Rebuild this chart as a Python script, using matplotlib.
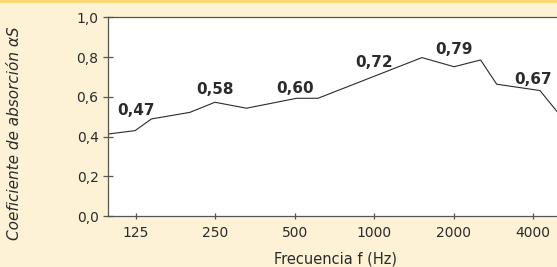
import matplotlib
matplotlib.use("Agg")
import matplotlib.pyplot as plt
from matplotlib.ticker import FixedLocator, NullLocator

# ---- data ----
freq_hz = [98, 124, 143, 200, 249, 328, 508, 612, 1517, 2009, 2532, 2914, 4251, 5000]
alpha_s = [0.413, 0.430, 0.489, 0.522, 0.573, 0.543, 0.593, 0.593, 0.798, 0.752, 0.786, 0.664, 0.632, 0.517]

octave_freqs = [125, 250, 500, 1000, 2000, 4000]
octave_labels = ["125", "250", "500", "1000", "2000", "4000"]
octave_values = ["0,47", "0,58", "0,60", "0,72", "0,79", "0,67"]
label_heights = [0.53, 0.635, 0.64, 0.772, 0.84, 0.69]

y_ticks = [0.0, 0.2, 0.4, 0.6, 0.8, 1.0]
y_tick_labels = ["0,0", "0,2", "0,4", "0,6", "0,8", "1,0"]

x_label = "Frecuencia f (Hz)"
y_label = "Coeficiente de absorción αS"

# ---- style ----
BG = "#fdf1d6"
INK = "#2b2b2b"
SPINE = "#555555"
FONT = ["DejaVu Sans"]

W, H = 557, 267
fig = plt.figure(figsize=(W / 100, H / 100), dpi=100, facecolor=BG)

# top yellow rule
fig.add_artist(plt.Line2D([0, 1], [1 - 1 / H, 1 - 1 / H], color="#fdd45c", lw=1.8,
                          transform=fig.transFigure))

left_px, right_px, top_px, bot_px = 108, 565, 17.5, 216
ax = fig.add_axes([left_px / W, 1 - bot_px / H, (right_px - left_px) / W, (bot_px - top_px) / H])
ax.set_facecolor("white")

ax.plot(freq_hz, alpha_s, color=INK, lw=0.8, solid_joinstyle="miter")

ax.set_xscale("log", base=2)
ax.set_xlim(97.9, 5290)
ax.set_ylim(0, 1.0)

ax.xaxis.set_major_locator(FixedLocator(octave_freqs))
ax.xaxis.set_minor_locator(NullLocator())
ax.set_xticklabels(octave_labels)
ax.set_yticks(y_ticks)
ax.set_yticklabels(y_tick_labels)

for lab in ax.get_xticklabels() + ax.get_yticklabels():
    lab.set_family(FONT)
    lab.set_color(INK)

ax.tick_params(axis="y", direction="inout", length=7.2, width=0.9, color=SPINE,
               labelsize=10, pad=3.2)
ax.tick_params(axis="x", direction="inout", length=5.0, width=0.9, color=SPINE,
               labelsize=10, pad=4.5)

for s in ("left", "top", "bottom"):
    ax.spines[s].set_color(SPINE)
    ax.spines[s].set_linewidth(0.9)
ax.spines["right"].set_visible(False)

for f, txt, yh in zip(octave_freqs, octave_values, label_heights):
    ax.text(f, yh, txt, ha="center", va="center", fontsize=11, fontweight="bold",
            color=INK, family=FONT)

fig.text(336 / W, 1 - 258.5 / H, x_label, ha="center", va="center", fontsize=10.5,
         color=INK, family=FONT)
fig.text(15 / W, 1 - 133.5 / H, y_label, ha="center", va="center", rotation=90,
         fontsize=11, style="italic", color=INK, family=FONT)

fig.savefig("out.png", dpi=100, facecolor=BG)
